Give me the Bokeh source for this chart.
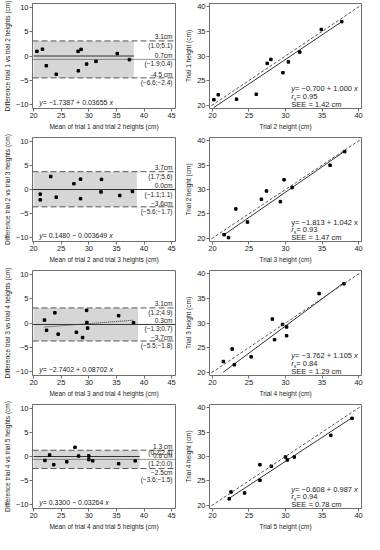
from bokeh.plotting import figure
from bokeh.layouts import gridplot
from bokeh.models import Range1d, Span, Slope, Label, FixedTicker
from bokeh.embed import file_html
from bokeh.resources import INLINE

# ---------------- data ----------------
# Bland-Altman panels: mean of two trials (x) and difference (y)
ba_mean_1 = [20.6, 21.6, 22.3, 24.1, 28.05, 28.6, 28.1, 29.6, 31.3, 35.15, 37.35]
ba_diff_1 = [0.96, 1.4, -2.0, -3.76, 0.96, 1.36, -3.05, -1.67, -1.1, 0.5, -0.75]
ba_mean_2 = [21.2, 21.2, 23.1, 24.1, 27.3, 28.5, 28.5, 32.3, 32.2, 35.6, 37.9]
ba_diff_2 = [-0.97, -2.15, 2.7, -1.6, 1.2, 2.15, -1.9, 2.1, -0.5, -1.25, -0.4]
ba_mean_3 = [21.97, 22.35, 23.85, 24.45, 27.75, 28.87, 29.6, 29.65, 29.78, 35.4, 38.1]
ba_diff_3 = [0.6, -1.5, 2.1, -2.3, -1.9, -3.0, 2.6, 0.1, -1.05, 1.5, 0.05]
ba_mean_4 = [22.05, 22.9, 23.65, 26.0, 27.5, 28.15, 30.0, 30.0, 30.7, 35.4, 38.4]
ba_diff_4 = [-0.82, 0.3, -1.7, -1.1, 1.9, 0.1, 0.12, -0.62, -0.9, -1.5, -0.9]

ba_upper = [3.1, 3.7, 3.1, 1.3]          # upper limit of agreement
ba_lower = [-4.5, -3.6, -3.7, -2.5]      # lower limit of agreement
ba_bias = [-0.7, 0.0, -0.3, -0.6]        # mean difference
ba_reg_a = [-1.7387, 0.1480, -2.7402, 0.3300]
ba_reg_b = [0.03655, -0.003649, 0.08702, -0.03264]
ba_eq_text = [" = \u22121.7387 + 0.03655", " = 0.1480 \u2212 0.003649",
              " = \u22122.7402 + 0.08702", " = 0.3300 \u2212 0.03264"]
ba_upper_lbl = [("3.1cm", "(1.0;5.1)"), ("3.7cm", "(1.7;5.6)"),
                ("3.1cm", "(1.2;4.9)"), ("1.3 cm", "(0.2;2.4)")]
ba_bias_lbl = [("0.7cm", "(\u22121.9;0.4)"), ("0.0cm", "(\u22121.1;1.1)"),
               ("0.3cm", "(\u22121.3;0.7)"), ("0.6 cm", "(1.2;0.0)")]
ba_lower_lbl = [("-4.5 cm", "(\u22126.6;\u22122.4)"), ("\u22123.6cm", "(\u22125.6;\u22121.7)"),
                ("\u22123.7cm", "(\u22125.5;\u22121.8)"), ("\u22122.5cm", "(\u22123.6;\u22121.5)")]
ba_ylabels = ["Difference trial 1 vs trial 2 heights (cm)",
              "Difference trial 2 vs trial 3 heights (cm)",
              "Difference trial 3 vs trial 4 heights (cm)",
              "Difference trial 4 vs trial 5 heights (cm)"]
ba_xlabels = ["Mean of trial 1 and trial 2 heights (cm)",
              "Mean of trial 2 and trial 3 heights (cm)",
              "Mean of trial 3 and trial 4 heights (cm)",
              "Mean of trial 4 and trial 5 heights (cm)"]
ba_xticks = [20, 25, 30, 35, 40, 45]
ba_yticks = [-10, -5, 0, 5, 10]

# Scatter panels: later trial (x) vs earlier trial (y)
sc_x_1 = [20.2, 20.8, 23.3, 26.0, 27.5, 28.0, 29.65, 30.4, 31.95, 34.9, 37.7]
sc_y_1 = [21.1, 22.1, 21.2, 22.2, 28.5, 29.3, 26.6, 28.8, 30.8, 35.4, 37.0]
sc_x_2 = [21.6, 22.2, 23.2, 24.8, 26.7, 27.4, 29.3, 29.8, 30.9, 36.1, 38.1]
sc_y_2 = [20.7, 20.1, 26.0, 23.3, 28.0, 29.7, 27.5, 32.0, 30.4, 35.0, 37.8]
sc_x_3 = [21.5, 22.7, 23.0, 25.3, 28.2, 28.5, 29.6, 30.15, 30.15, 34.6, 38.0]
sc_y_3 = [22.15, 24.7, 21.5, 23.1, 30.8, 26.6, 29.7, 29.2, 27.4, 36.0, 38.0]
sc_x_4 = [22.3, 22.55, 24.4, 26.5, 26.5, 28.05, 30.0, 30.25, 31.2, 36.2, 39.1]
sc_y_4 = [21.3, 22.7, 22.5, 28.3, 25.1, 28.0, 29.9, 29.3, 29.9, 34.35, 37.85]

sc_reg_a = [-0.700, -1.813, -3.762, -0.608]
sc_reg_b = [1.000, 1.042, 1.105, 0.987]
sc_eq_text = [" = \u22120.700 + 1.000", " = \u22121.813 + 1.042",
              " = \u22123.762 + 1.105", " = \u22120.608 + 0.987"]
sc_rs = ["0.95", "0.93", "0.84", "0.94"]
sc_see = ["1.42", "1.47", "1.29", "0.78"]
sc_ylabels = ["Trial 1 height (cm)", "Trial 2 height (cm)", "Trial 3 height (cm)", "Trial 4 height (cm)"]
sc_xlabels = ["Trial 2 height (cm)", "Trial 3 height (cm)", "Trial 4 height (cm)", "Trial 5 height (cm)"]
sc_ticks = [20, 25, 30, 35, 40]

ba_means = [ba_mean_1, ba_mean_2, ba_mean_3, ba_mean_4]
ba_diffs = [ba_diff_1, ba_diff_2, ba_diff_3, ba_diff_4]
sc_xs = [sc_x_1, sc_x_2, sc_x_3, sc_x_4]
sc_ys = [sc_y_1, sc_y_2, sc_y_3, sc_y_4]

# ---------------- style ----------------
FONT = "Liberation Sans"
TXT = "#222222"
LINE = "#555555"
FRAME = "#6e6e6e"
BOX = "#d6d6d6"

AW = {' ': .278, '.': .278, ';': .278, '(': .333, ')': .333, '=': .584, '+': .584,
      '\u2212': .584, '-': .333, 'y': .5, 'x': .5, 'r': .333, 's': .5, 'S': .667,
      'E': .667, 'c': .5, 'm': .833}

# pixel offsets (positive = up) of the label centres relative to their line:
# (upper-top, upper-bottom, bias-top, bias-bottom, lower-top, lower-bottom)
DEFAULT_OFFS = (4, -4.5, 4.3, -4.5, 3.5, -5)
LABEL_OFFS = [DEFAULT_OFFS, DEFAULT_OFFS, DEFAULT_OFFS, (3.8, -2.0, 4.0, -4.5, -4.0, -10.5)]


def tw(s, px):
    return sum(AW.get(ch, .556) for ch in s) * px


def rich(p, x, y, parts):
    off = 0.0
    for txt, fstyle, size, dy in parts:
        p.add_layout(Label(x=x, y=y, x_offset=off, y_offset=dy, text=txt,
                           text_font=FONT, text_font_size=f"{size}px",
                           text_font_style=fstyle, text_color=TXT,
                           text_baseline="alphabetic", text_align="left"))
        off += tw(txt, size)


def label(p, x, y, txt, size, align, baseline, xo=0, yo=0):
    p.add_layout(Label(x=x, y=y, x_offset=xo, y_offset=yo, text=txt,
                       text_font=FONT, text_font_size=f"{size}px", text_color=TXT,
                       text_align=align, text_baseline=baseline))


def style(p, xticks, yticks):
    p.outline_line_color = FRAME
    p.outline_line_width = 1
    p.xgrid.visible = False
    p.ygrid.visible = False
    p.xaxis.ticker = FixedTicker(ticks=xticks)
    p.yaxis.ticker = FixedTicker(ticks=yticks)
    for ax in (p.xaxis[0], p.yaxis[0]):
        ax.axis_line_color = None
        ax.major_tick_line_color = FRAME
        ax.major_tick_out = 3
        ax.major_tick_in = 0
        ax.minor_tick_line_color = None
        ax.major_label_text_font = FONT
        ax.major_label_text_font_size = "7.5px"
        ax.major_label_text_color = TXT
        ax.major_label_standoff = 1
        ax.axis_label_text_font = FONT
        ax.axis_label_text_font_size = "6.5px"
        ax.axis_label_text_font_style = "normal"
        ax.axis_label_text_color = TXT
        ax.axis_label_standoff = 2
    p.background_fill_color = "white"
    p.border_fill_color = "white"


heights = [134, 133, 134, 133]
BA_X = (19.8, 45.7)
BA_Y = (-10.8, 10.8)
SC_X = (19.6, 40.4)
SC_Y = (19.3, 40.7)

grid = []
for i in range(4):
    h = heights[i]
    # ---------- Bland-Altman ----------
    p = figure(width=180, height=h, output_backend="svg", toolbar_location=None,
               x_range=Range1d(*BA_X), y_range=Range1d(*BA_Y),
               min_border_left=27, min_border_right=5, min_border_top=3,
               min_border_bottom=26)
    style(p, ba_xticks, ba_yticks)
    p.xaxis.axis_label = ba_xlabels[i]
    p.yaxis.axis_label = ba_ylabels[i]
    m = ba_means[i]
    d = ba_diffs[i]
    box_right = max(m) + 0.8
    p.quad(left=[ba_xticks[0]], right=[box_right], bottom=[ba_lower[i]],
           top=[ba_upper[i]], fill_color=BOX, line_color=None)
    for lv in (ba_upper[i], ba_lower[i]):
        p.add_layout(Span(location=lv, dimension="width", line_color=LINE,
                          line_dash="6 3", line_width=1))
    if i == 2:
        # mean difference solid across, regression dotted over data range
        p.add_layout(Span(location=ba_bias[i], dimension="width", line_color="#333333",
                          line_width=1))
        rx = [min(m), max(m)]
        p.line(rx, [ba_reg_a[i] + ba_reg_b[i] * v for v in rx], line_color="#333333",
               line_dash="1 1", line_width=1)
    else:
        zx = [ba_xticks[0], box_right] if i != 1 else list(BA_X)
        p.line(zx, [0, 0], line_color="#333333", line_width=1)
        p.add_layout(Span(location=ba_bias[i], dimension="width", line_color="#333333",
                          line_dash="1 1", line_width=1))
    p.scatter(m, d, marker="square", size=2.5, color="black")
    # right-side labels
    xr = BA_X[1]
    offs = LABEL_OFFS[i]
    k = 0
    for lv, (top, bot) in zip((ba_upper[i], ba_bias[i], ba_lower[i]),
                              (ba_upper_lbl[i], ba_bias_lbl[i], ba_lower_lbl[i])):
        label(p, xr, lv, top, 6.5, "right", "middle", xo=-3, yo=offs[k])
        label(p, xr, lv, bot, 6.5, "right", "middle", xo=-3, yo=offs[k + 1])
        k += 2
    rich(p, 21.0, -9.6, [("y", "italic", 7, 0), (ba_eq_text[i], "normal", 7, 0),
                         ("x", "italic", 7, 0)])

    # ---------- scatter ----------
    q = figure(width=184, height=h, output_backend="svg", toolbar_location=None,
               x_range=Range1d(*SC_X), y_range=Range1d(*SC_Y),
               min_border_left=29, min_border_right=3, min_border_top=3,
               min_border_bottom=26)
    style(q, sc_ticks, sc_ticks)
    q.xaxis.axis_label = sc_xlabels[i]
    q.yaxis.axis_label = sc_ylabels[i]
    q.add_layout(Slope(gradient=1, y_intercept=0, line_color=LINE, line_dash="3 2",
                       line_width=1))
    x = sc_xs[i]
    y = sc_ys[i]
    rx = [min(x), max(x)]
    q.line(rx, [sc_reg_a[i] + sc_reg_b[i] * v for v in rx], line_color="#333333",
           line_width=1)
    q.scatter(x, y, marker="square", size=2.5, color="black")
    ital = "normal" if i == 1 else "italic"
    rich(q, 30.8, 23.3, [("y", ital, 7.5, 0), (sc_eq_text[i], "normal", 7.5, 0),
                         ("x", ital, 7.5, 0)])
    rich(q, 30.8, 21.7, [("r", "italic", 7.5, 0), ("s", "normal", 5, -2.5),
                         ("= " + sc_rs[i], "normal", 7.5, 0)])
    rich(q, 30.8, 20.1, [("SEE = " + sc_see[i] + " cm", "normal", 7.5, 0)])
    grid.append([p, q])

layout = gridplot(grid, toolbar_location=None)

open("out.html", "w").write(file_html(layout, INLINE))
